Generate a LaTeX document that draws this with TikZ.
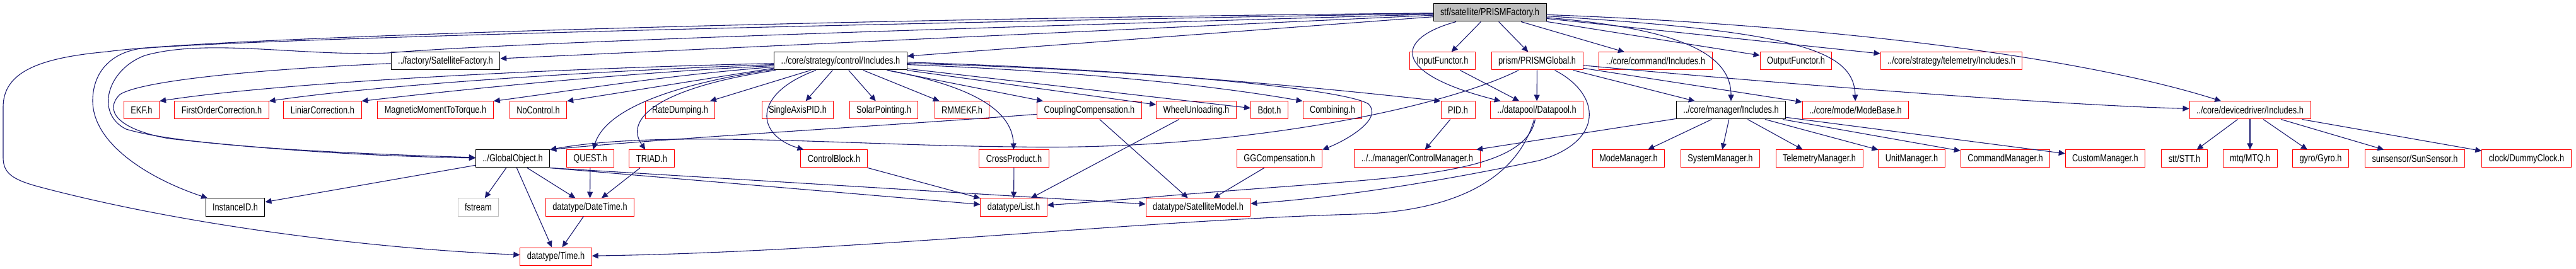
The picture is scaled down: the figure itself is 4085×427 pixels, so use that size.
\documentclass[tikz,border=0pt]{standalone}
\usepackage{fontspec}
\setmainfont{Liberation Sans}[FakeStretch=0.8]
\usepackage{tikz}
\usetikzlibrary{arrows.meta}
\definecolor{edgeblue}{RGB}{25,25,112}
\definecolor{incomplete}{RGB}{255,0,0}
\definecolor{rootgray}{RGB}{191,191,191}

\begin{document}
\begin{tikzpicture}[x=0.5pt, y=-0.5pt,
      font=\fontsize{8}{9}\selectfont,
      hf/.style={rectangle, draw=black, line width=0.5pt, inner xsep=5.5pt,
                 inner ysep=0pt, minimum height=14pt},
      hr/.style={hf, draw=incomplete},
      hx/.style={hf, draw=rootgray},
      hroot/.style={hf, fill=rootgray},
      arr/.style={-{Triangle[length=5pt,width=4.5pt]}, draw=edgeblue, line width=0.55pt}
    ]
      \useasboundingbox (0,0) rectangle (4085,427);

      \node[hroot] (root) at (2362.5,20) {stf/satellite/PRISMFactory.h};

      \node[hf] (sfac)   at (706.5,97)  {../factory/SatelliteFactory.h};
      \node[hf] (ctrl)   at (1333,97)   {../core/strategy/control/Includes.h};
      \node[hr] (infun)  at (2287.5,97) {InputFunctor.h};
      \node[hr] (pglob)  at (2437.5,97) {prism/PRISMGlobal.h};
      \node[hr] (cmd)    at (2625.5,97) {../core/command/Includes.h};
      \node[hr] (outfun) at (2848,97)   {OutputFunctor.h};
      \node[hr] (telem)  at (3094.5,97) {../core/strategy/telemetry/Includes.h};

      \node[hr] (ekf)   at (224.5,175)  {EKF.h};
      \node[hr] (foc)   at (351.5,175)  {FirstOrderCorrection.h};
      \node[hr] (lin)   at (511.5,175)  {LiniarCorrection.h};
      \node[hr] (mmt)   at (690.5,175)  {MagneticMomentToTorque.h};
      \node[hr] (noc)   at (853.5,175)  {NoControl.h};
      \node[hr] (rate)  at (1078.5,175) {RateDumping.h};
      \node[hr] (sapid) at (1265,175)   {SingleAxisPID.h};
      \node[hr] (solar) at (1401.5,175) {SolarPointing.h};
      \node[hr] (rmm)   at (1525.5,175) {RMMEKF.h};
      \node[hr] (coup)  at (1727.5,175) {CouplingCompensation.h};
      \node[hr] (wheel) at (1897,175)   {WheelUnloading.h};
      \node[hr] (bdot)  at (2013,175)   {Bdot.h};
      \node[hr] (comb)  at (2113,175)   {Combining.h};
      \node[hr] (pid)   at (2312,175)   {PID.h};
      \node[hr] (dpool) at (2437,175)   {../datapool/Datapool.h};
      \node[hf] (mgr)   at (2745,175)   {../core/manager/Includes.h};
      \node[hr] (mode)  at (2942.5,175) {../core/mode/ModeBase.h};
      \node[hr] (dev)   at (3568,175)   {../core/devicedriver/Includes.h};

      \node[hf] (gobj)  at (813,252)    {../GlobalObject.h};
      \node[hr] (quest) at (936,252)    {QUEST.h};
      \node[hr] (triad) at (1033.5,252) {TRIAD.h};
      \node[hr] (cblk)  at (1322.5,252) {ControlBlock.h};
      \node[hr] (cross) at (1608,252)   {CrossProduct.h};
      \node[hr] (ggc)   at (2029,252)   {GGCompensation.h};
      \node[hr] (cman)  at (2247.5,252) {../../manager/ControlManager.h};
      \node[hr] (modem) at (2582.5,252) {ModeManager.h};
      \node[hr] (sysm)  at (2728,252)   {SystemManager.h};
      \node[hr] (telm)  at (2885,252)   {TelemetryManager.h};
      \node[hr] (unitm) at (3031.5,252) {UnitManager.h};
      \node[hr] (cmdm)  at (3180,252)   {CommandManager.h};
      \node[hr] (custm) at (3338.5,252) {CustomManager.h};
      \node[hr] (stt)   at (3464,252)   {stt/STT.h};
      \node[hr] (mtq)   at (3568,252)   {mtq/MTQ.h};
      \node[hr] (gyro)  at (3680,252)   {gyro/Gyro.h};
      \node[hr] (sun)   at (3829.5,252) {sunsensor/SunSensor.h};
      \node[hr] (clk)   at (4006.5,252) {clock/DummyClock.h};

      \node[hf] (iid)  at (373,329)    {InstanceID.h};
      \node[hx] (fstr) at (758.5,329)  {fstream};
      \node[hr] (dt)   at (935.5,329)  {datatype/DateTime.h};
      \node[hr] (list) at (1607.5,329) {datatype/List.h};
      \node[hr] (smod) at (1900,329)   {datatype/SatelliteModel.h};

      \node[hr] (time) at (881.5,407) {datatype/Time.h};

      % stf/satellite/PRISMFactory.h
      \foreach \t in {sfac,ctrl,infun,pglob,cmd,outfun,telem}
        \draw[arr] (root) -- (\t);
      \draw[arr] (root) .. controls (2650,45) and (2745,80) .. (mgr);
      \draw[arr] (root) .. controls (2850,50) and (2940,80) .. (mode);
      \draw[arr] (root) .. controls (2900,40) and (3300,90) .. (dev);
      \draw[arr] (root) .. controls (2215,60) and (2200,115) .. (dpool);
      \draw[arr] (root) .. controls (1300,38) and (400,62) .. (223,77)
                 .. controls (170,85) and (147,120) .. (147,160)
                 .. controls (147,230) and (240,285) .. (iid);
      \draw[arr] (root) .. controls (1500,45) and (800,68) .. (616,84)
                 .. controls (480,90) and (330,60) .. (230,88)
                 .. controls (170,110) and (150,180) .. (200,205)
                 .. controls (300,235) and (600,245) .. (gobj);
      \draw[arr] (root) .. controls (1300,30) and (330,60) .. (170,82)
                 .. controls (60,92) and (5,115) .. (5,170) -- (5,250)
                 .. controls (5,275) and (20,285) .. (60,296)
                 .. controls (300,360) and (600,395) .. (time);

      % ../factory/SatelliteFactory.h
      \draw[arr] (sfac) .. controls (450,108) and (230,125) .. (190,150)
                 .. controls (165,175) and (185,205) .. (268,220)
                 .. controls (450,240) and (600,248) .. (gobj);

      % ../core/strategy/control/Includes.h
      \draw[arr] (ctrl.182) .. controls (900,108) and (450,130) .. (ekf.north east);
      \draw[arr] (ctrl.183) .. controls (950,112) and (600,135) .. (foc.north east);
      \draw[arr] (ctrl.184) .. controls (1000,115) and (750,140) .. (lin.north east);
      \draw[arr] (ctrl.185) .. controls (1050,120) and (900,145) .. (mmt.north east);
      \draw[arr] (ctrl.186) -- (noc.north east);
      \draw[arr] (ctrl.187) .. controls (1060,135) and (960,175) .. (quest);
      \draw[arr] (ctrl.188) .. controls (1040,140) and (990,190) .. (triad);
      \draw[arr] (ctrl) .. controls (1190,150) and (1200,215) .. (cblk);
      \draw[arr] (ctrl) .. controls (1530,135) and (1605,170) .. (cross);
      \foreach \t in {rate,sapid,solar,rmm,coup,wheel,bdot}
        \draw[arr] (ctrl) -- (\t);
      \draw[arr] (ctrl.-3) .. controls (1750,115) and (1950,140) .. (comb.north west);
      \draw[arr] (ctrl.-2) .. controls (1800,110) and (2100,140) .. (pid.north west);
      \draw[arr] (ctrl.-1) .. controls (1800,110) and (2130,140) .. (2170,165)
                 .. controls (2195,190) and (2130,225) .. (ggc.north east);

      % prism/PRISMGlobal.h
      \draw[arr] (pglob) -- (dpool);
      \draw[arr] (pglob) -- (mgr);
      \draw[arr] (pglob) -- (mode);
      \draw[arr] (pglob) .. controls (2900,140) and (3300,168) .. (dev);
      \draw[arr] (pglob) .. controls (2280,175) and (1950,240) .. (1610,233)
                 .. controls (1350,231) and (1050,205) .. (gobj.north east);
      \draw[arr] (pglob) .. controls (2540,150) and (2545,225) .. (2440,255)
                 .. controls (2250,295) and (2100,315) .. (smod);

      % ../datapool/Datapool.h
      \draw[arr] (dpool) .. controls (2410,270) and (2330,335) .. (2150,340)
                 .. controls (1800,350) and (1350,400) .. (time);
      \draw[arr] (dpool) .. controls (2420,270) and (2250,280) .. (2040,296)
                 .. controls (1850,310) and (1750,320) .. (list);

      \draw[arr] (infun) -- (dpool);
      \draw[arr] (pid) -- (cman);
      \draw[arr] (coup) .. controls (1400,200) and (1050,220) .. (gobj.north east);
      \draw[arr] (coup) -- (smod);
      \draw[arr] (wheel) -- (list);
      \draw[arr] (cross) -- (list);
      \draw[arr] (cblk) -- (list);
      \draw[arr] (ggc) -- (smod);

      % ../GlobalObject.h
      \foreach \t in {iid,fstr,dt,time}
        \draw[arr] (gobj) -- (\t);
      \draw[arr] (gobj.south east) -- (list);
      \draw[arr] (gobj.south east) -- (smod);

      \draw[arr] (quest) -- (dt);
      \draw[arr] (triad) -- (dt);
      \draw[arr] (dt) -- (time);

      \foreach \t in {cman,modem,sysm,telm,unitm,cmdm,custm}
        \draw[arr] (mgr) -- (\t);
      \foreach \t in {stt,mtq,gyro,sun,clk}
        \draw[arr] (dev) -- (\t);
    \end{tikzpicture}
\end{document}
